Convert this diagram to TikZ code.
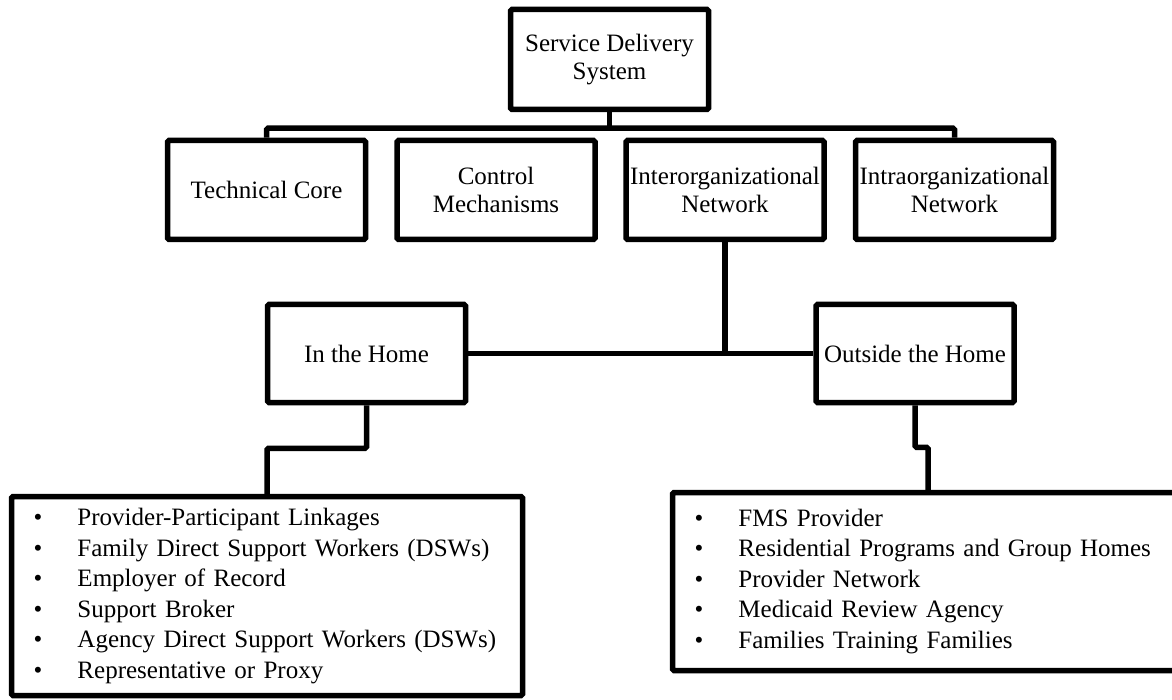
\documentclass[tikz,border=0pt]{standalone}
\usepackage{fontspec}
\setmainfont{Liberation Serif}
\usetikzlibrary{calc}

\newcommand{\listdot}{\makebox[44pt][l]{\textbullet}}

\begin{document}
\begin{tikzpicture} [x=1pt,y=-1pt,
  box/.style={draw,line width=5.5pt,rounded corners=1.5pt,minimum width=198pt,minimum height=99pt,align=center,inner sep=2pt,font=\fontsize{25}{28}\selectfont},
  listbox/.style={draw,line width=5.5pt,rounded corners=1.5pt,text width=467pt,inner xsep=22pt,align=left,font=\fontsize{25}{30.5}\selectfont},
  link/.style={line width=5.5pt,rounded corners=1.5pt}]
\useasboundingbox (0,0) rectangle (1172,700);
\clip (0,0) rectangle (1172,700);

\node[box,minimum height=100pt] (sds) at (609.5,59.5) {Service Delivery\\System};

\node[box] (tech) at (266.5,190) {Technical Core};
\node[box] (ctrl) at (496,190) {Control\\Mechanisms};
\node[box] (inter) at (725,190) {Interorganizational\\Network};
\node[box] (intra) at (954.5,190) {Intraorganizational\\Network};

\node[box,minimum height=98pt] (home) at (366.5,353.5) {In the Home};
\node[box,minimum height=98pt] (out) at (915,353.5) {Outside the Home};

\node[listbox,minimum height=199pt] (homelist) at (267,596) {
\listdot Provider-Participant Linkages\\
\listdot Family Direct Support Workers (DSWs)\\
\listdot Employer of Record\\
\listdot Support Broker\\
\listdot Agency Direct Support Workers (DSWs)\\
\listdot Representative or Proxy};

\node[listbox,minimum height=178pt] (outlist) at (928,581.5) {
\listdot FMS Provider\\
\listdot Residential Programs and Group Homes\\
\listdot Provider Network\\
\listdot Medicaid Review Agency\\
\listdot Families Training Families};

% top level links
\draw[link] (sds.south) -- ++(0,16) coordinate (bar);
\draw[link] (tech.north) |- (bar) -| (intra.north);

% second level
\draw[link] (inter.south) -- (inter.south |- home.east);
\draw[link] (home.east) -- (out.west);

% lists
\draw[link] (home.south) -- ++(0,43) -| (homelist.north);
\draw[link] (out.south) -- ++(0,42) -| (outlist.north);

\end{tikzpicture}
\end{document}
